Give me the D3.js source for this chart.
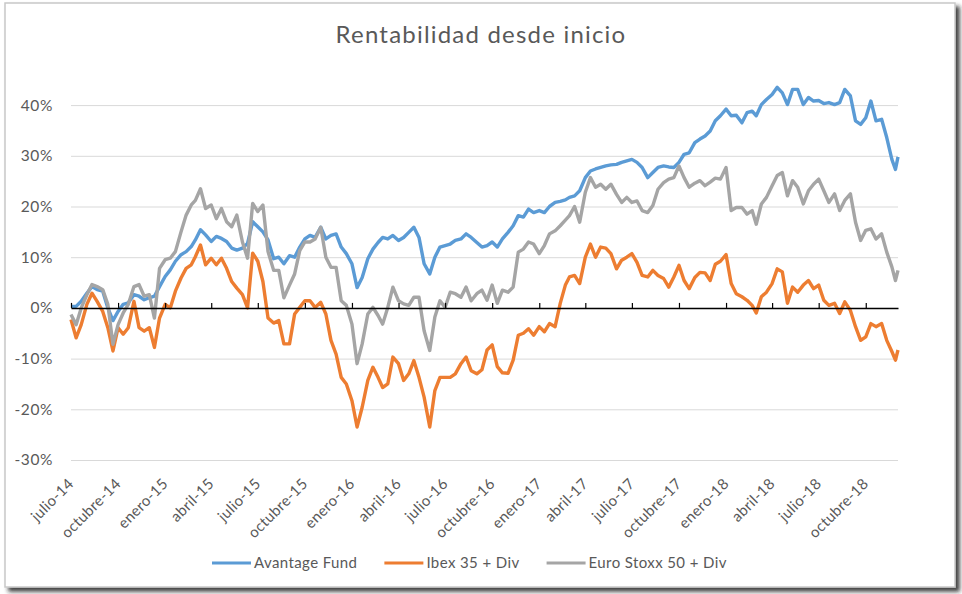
<!DOCTYPE html>
<html>
<head>
<meta charset="utf-8">
<script src="https://cdn.jsdelivr.net/npm/d3@7"></script>
<style>
  body { margin: 0; background: #fff; }
  text { font-family: Lato, "Open Sans", sans-serif; fill: #595959; }
</style>
</head>
<body>
<div class="line-chart"></div>
<script>
// fechas (1, 11 y 21 de cada mes)
const dates = [
  "2014-07-01","2014-07-11","2014-07-21","2014-08-01","2014-08-11","2014-08-21","2014-09-01","2014-09-11","2014-09-21",
  "2014-10-01","2014-10-11","2014-10-21","2014-11-01","2014-11-11","2014-11-21","2014-12-01","2014-12-11","2014-12-21",
  "2015-01-01","2015-01-11","2015-01-21","2015-02-01","2015-02-11","2015-02-21","2015-03-01","2015-03-11","2015-03-21",
  "2015-04-01","2015-04-11","2015-04-21","2015-05-01","2015-05-11","2015-05-21","2015-06-01","2015-06-11","2015-06-21",
  "2015-07-01","2015-07-11","2015-07-21","2015-08-01","2015-08-11","2015-08-21","2015-09-01","2015-09-11","2015-09-21",
  "2015-10-01","2015-10-11","2015-10-21","2015-11-01","2015-11-11","2015-11-21","2015-12-01","2015-12-11","2015-12-21",
  "2016-01-01","2016-01-11","2016-01-21","2016-02-01","2016-02-11","2016-02-21","2016-03-01","2016-03-11","2016-03-21",
  "2016-04-01","2016-04-11","2016-04-21","2016-05-01","2016-05-11","2016-05-21","2016-06-01","2016-06-11","2016-06-21",
  "2016-07-01","2016-07-11","2016-07-21","2016-08-01","2016-08-11","2016-08-21","2016-09-01","2016-09-11","2016-09-21",
  "2016-10-01","2016-10-11","2016-10-21","2016-11-01","2016-11-11","2016-11-21","2016-12-01","2016-12-11","2016-12-21",
  "2017-01-01","2017-01-11","2017-01-21","2017-02-01","2017-02-11","2017-02-21","2017-03-01","2017-03-11","2017-03-21",
  "2017-04-01","2017-04-11","2017-04-21","2017-05-01","2017-05-11","2017-05-21","2017-06-01","2017-06-11","2017-06-21",
  "2017-07-01","2017-07-11","2017-07-21","2017-08-01","2017-08-11","2017-08-21","2017-09-01","2017-09-11","2017-09-21",
  "2017-10-01","2017-10-11","2017-10-21","2017-11-01","2017-11-11","2017-11-21","2017-12-01","2017-12-11","2017-12-21",
  "2018-01-01","2018-01-11","2018-01-21","2018-02-01","2018-02-11","2018-02-21","2018-03-01","2018-03-11","2018-03-21",
  "2018-04-01","2018-04-11","2018-04-21","2018-05-01","2018-05-11","2018-05-21","2018-06-01","2018-06-11","2018-06-21",
  "2018-07-01","2018-07-11","2018-07-21","2018-08-01","2018-08-11","2018-08-21","2018-09-01","2018-09-11","2018-09-21",
  "2018-10-01","2018-10-11","2018-10-21","2018-11-01","2018-11-11","2018-11-21","2018-11-28","2018-12-03"
];

// rentabilidad en %
const avantage = [
  0.3, 0.3, 1.3,  2.9, 4.2, 3.6,  3.3, 0.0, -2.5,
  -0.7, 0.7, 1.0,  2.6, 2.3, 1.6,  2.0, 2.3, 4.2,
  6.2, 7.5, 9.2,  10.5, 11.1, 12.1,  13.4, 15.4, 14.4,
  13.1, 14.1, 13.7,  13.1, 11.8, 11.4,  11.8, 12.7, 17.0,
  16.0, 15.0, 13.4,  9.7, 10.0, 8.7,  10.3, 10.0, 12.0,
  13.6, 14.3, 13.9,  15.9, 13.6, 14.3,  14.6, 12.0, 10.7,
  8.7, 4.0, 6.0,  9.7, 11.6, 12.9,  13.9, 13.6, 14.3,
  13.3, 13.9, 14.9,  15.9, 13.9, 8.7,  6.7, 10.0, 12.0,
  12.3, 12.6, 13.3,  13.6, 14.6, 13.9,  12.9, 12.0, 12.3,
  13.0, 12.0, 13.6,  14.9, 16.2, 18.2,  17.9, 19.5, 18.8,
  19.2, 18.8, 20.0,  20.8, 21.0, 21.3,  21.8, 22.1, 23.1,
  25.7, 27.0, 27.4,  27.7, 28.0, 28.2,  28.3, 28.7, 29.0,
  29.3, 28.7, 27.7,  25.7, 26.7, 27.7,  28.0, 27.8, 27.7,
  28.7, 30.3, 30.6,  32.6, 33.3, 33.9,  34.9, 36.9, 37.9,
  39.2, 37.9, 38.0,  36.5, 38.5, 38.8,  37.9, 40.1, 41.1,
  42.1, 43.5, 42.4,  40.1, 43.1, 43.1,  40.1, 41.5, 40.8,
  40.9, 40.3, 40.5,  40.1, 40.5, 43.1,  41.8, 36.9, 36.2,
  37.5, 40.8, 36.9,  37.2, 33.6, 29.3, 27.3, 29.8
];

const ibex = [
  -2.3, -5.9, -3.3,  0.7, 2.9, 1.3,  -0.7, -3.9, -8.5,
  -3.9, -5.2, -3.9,  1.3, -3.9, -4.6,  -3.9, -7.8, -2.0,
  0.7, 0.0, 3.3,  5.9, 7.8, 8.5,  10.1, 12.4, 8.5,
  9.8, 8.5, 9.8,  7.8, 5.2, 3.9,  2.6, 0.0, 10.8,
  9.2, 5.2, -2.0,  -3.0, -2.5, -7.1,  -7.1, -1.2, 0.1,
  1.4, 1.4, 0.1,  1.1, -1.2, -6.4,  -9.1, -13.7, -15.0,
  -18.3, -23.5, -19.6,  -14.3, -11.7, -13.7,  -15.7, -15.0, -9.7,
  -11.0, -14.3, -13.0,  -10.4, -13.7, -17.6,  -23.5, -16.3, -13.7,
  -13.7, -13.7, -13.0,  -11.0, -9.7, -12.4,  -13.0, -12.2, -8.3,
  -7.3, -11.6, -12.8,  -12.9, -10.3, -5.4,  -5.0, -4.1, -5.4,
  -3.7, -4.7, -3.1,  -3.7, 0.9, 4.5,  6.1, 6.4, 4.8,
  10.0, 12.6, 10.0,  12.0, 11.8, 10.7,  7.7, 9.4, 10.0,
  10.7, 9.0, 6.4,  6.1, 7.4, 6.4,  5.8, 4.1, 6.1,
  8.4, 5.4, 3.8,  6.0, 7.0, 6.9,  5.4, 8.6, 9.2,
  10.5, 4.8, 2.8,  2.2, 1.5, 0.5,  -1.0, 2.2, 3.1,
  4.8, 7.7, 7.1,  0.9, 4.1, 3.1,  4.5, 5.4, 3.8,
  4.5, 1.5, 0.5,  0.9, -1.1, 1.2,  -0.5, -3.7, -6.4,
  -5.7, -3.1, -3.7,  -3.1, -6.4, -8.6, -10.3, -8.3
];

const eurostoxx = [
  -1.3, -3.3, 0.0,  2.6, 4.6, 4.2,  3.6, 0.7, -7.2,
  -3.3, -1.0, 0.7,  4.2, 4.6, 2.3,  2.6, -2.0, 7.8,
  9.5, 9.8, 11.1,  15.0, 18.3, 20.3,  21.2, 23.5, 19.6,
  20.3, 17.6, 19.6,  17.0, 16.0, 18.3,  13.0, 9.8, 20.6,
  19.0, 20.3, 11.1,  7.4, 7.4, 2.0,  4.5, 6.7, 11.3,
  13.0, 13.0, 13.6,  15.9, 10.0, 8.0,  8.0, 1.4, 0.5,
  -3.2, -11.0, -7.1,  -1.2, 0.1, -1.5,  -3.2, 0.1, 4.1,
  1.4, 0.8, 0.5,  2.1, 2.1, -4.5,  -8.4, -1.8, 1.4,
  0.1, 3.1, 2.8,  2.1, 4.1, 1.4,  2.8, 3.5, 1.5,
  4.5, 0.9, 3.5,  3.1, 4.1, 11.0,  11.6, 13.0, 12.6,
  10.7, 12.3, 14.6,  15.2, 16.2, 17.3,  18.2, 20.0, 16.9,
  22.8, 25.7, 23.8,  24.4, 23.4, 24.4,  22.4, 20.8, 21.8,
  20.8, 21.1, 19.2,  18.8, 20.2, 23.4,  24.7, 25.4, 25.7,
  28.0, 25.7, 23.8,  24.6, 25.1, 24.1,  24.8, 25.6, 25.4,
  27.7, 19.2, 19.8,  19.8, 18.5, 19.2,  16.5, 20.5, 21.8,
  24.1, 26.1, 26.7,  22.1, 25.1, 23.8,  20.5, 23.1, 24.4,
  25.4, 23.1, 20.8,  22.5, 19.2, 21.2,  22.5, 16.9, 13.3,
  15.3, 15.6, 13.6,  14.6, 11.0, 8.1, 5.4, 7.4
];

const seriesNames = ["Avantage Fund", "Ibex 35 + Div", "Euro Stoxx 50 + Div"];
const seriesColors = ["#5B9BD5", "#ED7D31", "#A5A5A5"];

// etiquetas del eje x (trimestrales)
const tickDates = [
  "2014-07-01","2014-10-01","2015-01-01","2015-04-01","2015-07-01","2015-10-01",
  "2016-01-01","2016-04-01","2016-07-01","2016-10-01","2017-01-01","2017-04-01",
  "2017-07-01","2017-10-01","2018-01-01","2018-04-01","2018-07-01","2018-10-01"
];
const tickLabels = [
  "julio-14","octubre-14","enero-15","abril-15","julio-15","octubre-15",
  "enero-16","abril-16","julio-16","octubre-16","enero-17","abril-17",
  "julio-17","octubre-17","enero-18","abril-18","julio-18","octubre-18"
];
const yTicks = [-30, -20, -10, 0, 10, 20, 30, 40];

const parseDate = d3.timeParse("%Y-%m-%d");

function prepData() {
  const cols = [avantage, ibex, eurostoxx];
  return seriesNames.map((name, i) => ({
    name: name,
    color: seriesColors[i],
    values: dates.map((d, j) => ({ date: parseDate(d), value: cols[i][j] }))
  }));
}

function setupCanvas(series) {
  const svg_width = 962;
  const svg_height = 594;
  const plot = { left: 71, right: 898, top: 80, bottom: 460 };

  const svg = d3.select(".line-chart").append("svg")
    .attr("width", svg_width).attr("height", svg_height);

  // marco con sombra
  const defs = svg.append("defs");
  defs.append("filter").attr("id", "shadow")
    .attr("x", "-5%").attr("y", "-5%").attr("width", "110%").attr("height", "110%")
    .append("feDropShadow")
    .attr("dx", 4).attr("dy", 4).attr("stdDeviation", 2)
    .attr("flood-color", "#222").attr("flood-opacity", 0.85);

  svg.append("rect")
    .attr("x", 5).attr("y", 3).attr("width", 950).attr("height", 584)
    .style("fill", "#fff").style("stroke", "#c8c8c8").style("stroke-width", 1.5)
    .attr("filter", "url(#shadow)");

  const xScale = d3.scaleTime()
    .domain([parseDate("2014-07-01"), parseDate("2018-12-03")])
    .range([plot.left, plot.right]);
  const yScale = d3.scaleLinear()
    .domain([-30, 45])
    .range([plot.bottom, plot.bottom - 75 * 5.07]);

  // rejilla y eje y
  const yAxis = d3.axisLeft(yScale).tickValues(yTicks)
    .tickFormat(d => d + "%")
    .tickSizeInner(-(plot.right - plot.left)).tickSizeOuter(0).tickPadding(18);
  const yG = svg.append("g").attr("class", "y axis")
    .attr("transform", `translate(${plot.left},0)`)
    .call(yAxis);
  yG.select(".domain").remove();
  yG.selectAll(".tick line").style("stroke", "#d9d9d9").style("stroke-width", 1);
  yG.selectAll(".tick text").style("font-size", "15.5px").style("fill", "#595959")
    .style("letter-spacing", "0.6px")
    .style("font-family", "Lato, sans-serif");

  // lineas
  const lineGen = d3.line()
    .x(d => xScale(d.date))
    .y(d => yScale(d.value));

  svg.append("g").attr("class", "series")
    .selectAll(".line-series").data(series).enter()
    .append("path").attr("class", "line-series")
    .attr("d", d => lineGen(d.values))
    .style("fill", "none")
    .style("stroke", d => d.color)
    .style("stroke-width", 3.4)
    .style("stroke-linejoin", "round");

  // eje x en 0%
  const xTicks = tickDates.map(parseDate);
  const xAxis = d3.axisTop(xScale).tickValues(xTicks)
    .tickSizeInner(5).tickSizeOuter(0).tickFormat("");
  const xG = svg.append("g").attr("class", "x axis")
    .attr("transform", `translate(0,${yScale(0)})`)
    .call(xAxis);
  xG.select(".domain").style("stroke", "#000").style("stroke-width", 1.5);
  xG.selectAll(".tick line").style("stroke", "#000").style("stroke-width", 1.2);

  // etiquetas fecha abajo, giradas
  svg.append("g").attr("class", "x-labels")
    .selectAll("text").data(xTicks).enter()
    .append("text")
    .attr("transform", d => `translate(${xScale(d)},${plot.bottom + 21}) rotate(-45)`)
    .attr("text-anchor", "end")
    .attr("dy", "0.35em")
    .style("font-size", "15px")
    .style("letter-spacing", "0.3px")
    .text((d, i) => tickLabels[i]);

  // titulo
  svg.append("text")
    .attr("x", 481).attr("y", 43)
    .attr("text-anchor", "middle")
    .style("font-size", "24px")
    .style("letter-spacing", "1.2px")
    .text("Rentabilidad desde inicio");

  // leyenda
  const legend = svg.append("g").attr("class", "legend");
  let lx = 212;
  series.forEach(s => {
    legend.append("line")
      .attr("x1", lx).attr("x2", lx + 39).attr("y1", 563).attr("y2", 563)
      .style("stroke", s.color).style("stroke-width", 3);
    const t = legend.append("text")
      .attr("x", lx + 42).attr("y", 563).attr("dy", "0.35em")
      .style("font-size", "15px")
      .style("letter-spacing", "0.4px")
      .text(s.name);
    lx += 42 + t.node().getComputedTextLength() + 27;
  });
}

setupCanvas(prepData());
</script>
</body>
</html>
